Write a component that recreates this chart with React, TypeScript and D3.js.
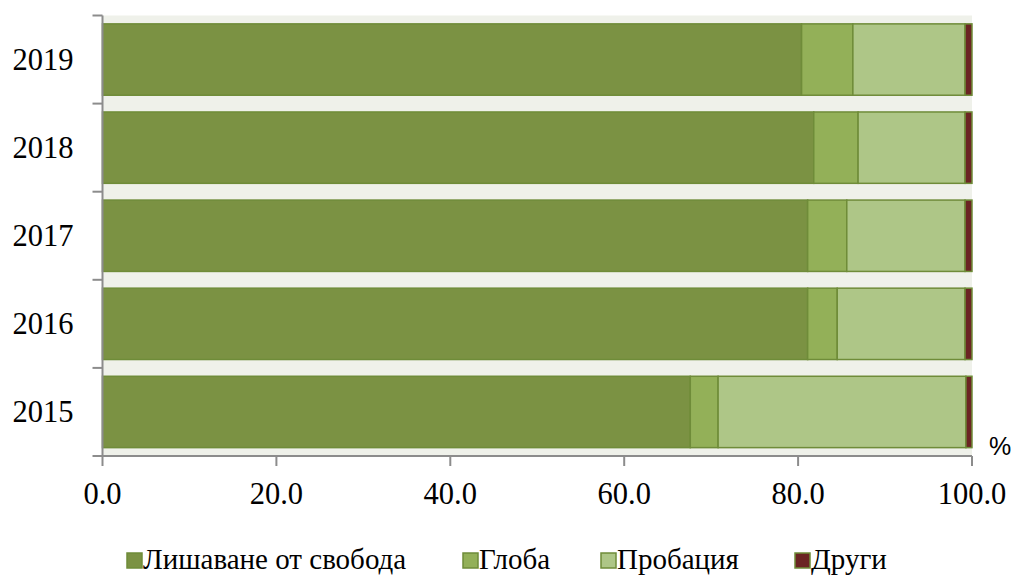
import { useEffect, useRef } from "react";
import * as d3 from "d3";

const years = ["2019", "2018", "2017", "2016", "2015"];
const seriesNames = ["Лишаване от свобода", "Глоба", "Пробация", "Други"];
const deprivation = [80.4, 81.8, 81.1, 81.1, 67.6];
const fine = [5.9, 5.1, 4.5, 3.4, 3.2];
const probation = [12.9, 12.3, 13.6, 14.7, 28.5];
const other = [0.8, 0.8, 0.8, 0.8, 0.7];
const xTicks = [0, 20, 40, 60, 80, 100];

const colors = ["#7b9243", "#93b058", "#aec687", "#6b2423"];

export default function App() {
  const svgRef = useRef<SVGSVGElement>(null);

  useEffect(() => {
    if (!svgRef.current) return;
    const svg = d3.select(svgRef.current);
    svg.selectAll("*").remove();

    const width = 1014;
    const height = 576;
    const margin = { top: 15.5, right: 42, bottom: 120, left: 102.5 };
    const serif = "'Liberation Serif', 'Times New Roman', serif";

    const rows = years.map((y, i) => ({
      year: y,
      values: [deprivation[i], fine[i], probation[i], other[i]],
    }));

    const x = d3
      .scaleLinear()
      .domain([0, 100])
      .range([margin.left, width - margin.right]);

    const y = d3
      .scaleBand()
      .domain(years)
      .range([margin.top, height - margin.bottom])
      .paddingInner(0.19)
      .paddingOuter(0.095);

    const outer = d3
      .scaleBand()
      .domain(years)
      .range([margin.top, height - margin.bottom]);

    // Plot background
    svg
      .append("rect")
      .attr("x", margin.left)
      .attr("y", margin.top)
      .attr("width", x(100) - margin.left)
      .attr("height", height - margin.bottom - margin.top)
      .attr("fill", "#eff1ea");

    // Bars
    rows.forEach((r) => {
      let acc = 0;
      r.values.forEach((v, k) => {
        svg
          .append("rect")
          .attr("x", x(acc))
          .attr("y", y(r.year)!)
          .attr("width", x(acc + v) - x(acc))
          .attr("height", y.bandwidth())
          .attr("fill", colors[k])
          .attr("stroke", "#6f8c39")
          .attr("stroke-width", 1.5);
        acc += v;
      });
    });

    // Y axis
    const yAxis = svg
      .append("g")
      .attr("transform", `translate(${margin.left},0)`);
    yAxis
      .append("line")
      .attr("x1", 0)
      .attr("x2", 0)
      .attr("y1", margin.top)
      .attr("y2", height - margin.bottom)
      .attr("stroke", "#8c8c8c")
      .attr("stroke-width", 2);
    const yTickPos = [...years.map((yr) => outer(yr)!), height - margin.bottom];
    yAxis
      .selectAll("line.tick")
      .data(yTickPos)
      .enter()
      .append("line")
      .attr("x1", -10)
      .attr("x2", 0)
      .attr("y1", (d) => d)
      .attr("y2", (d) => d)
      .attr("stroke", "#8c8c8c")
      .attr("stroke-width", 2);
    yAxis
      .selectAll("text")
      .data(years)
      .enter()
      .append("text")
      .attr("x", -29)
      .attr("y", (d) => outer(d)! + outer.bandwidth() / 2 + 10)
      .attr("text-anchor", "end")
      .attr("font-family", serif)
      .attr("font-size", 30.5)
      .attr("fill", "#000")
      .text((d) => d);

    // X axis
    const xAxis = svg
      .append("g")
      .attr("transform", `translate(0,${height - margin.bottom})`);
    xAxis
      .append("line")
      .attr("x1", margin.left)
      .attr("x2", x(100))
      .attr("stroke", "#8c8c8c")
      .attr("stroke-width", 2);
    xAxis
      .selectAll("line.tick")
      .data(xTicks)
      .enter()
      .append("line")
      .attr("x1", (d) => x(d))
      .attr("x2", (d) => x(d))
      .attr("y1", 0)
      .attr("y2", 10)
      .attr("stroke", "#8c8c8c")
      .attr("stroke-width", 2);
    xAxis
      .selectAll("text")
      .data(xTicks)
      .enter()
      .append("text")
      .attr("x", (d) => x(d))
      .attr("y", 48)
      .attr("text-anchor", "middle")
      .attr("font-family", serif)
      .attr("font-size", 30.5)
      .attr("fill", "#000")
      .text((d) => d.toFixed(1));

    // % unit
    svg
      .append("text")
      .attr("x", 989)
      .attr("y", 455)
      .attr("font-family", "'Liberation Sans', Arial, sans-serif")
      .attr("font-size", 25)
      .attr("fill", "#000")
      .text("%");

    // Legend
    const legendX = [127, 463, 601, 795];
    const legend = svg.append("g");
    seriesNames.forEach((name, k) => {
      legend
        .append("rect")
        .attr("x", legendX[k])
        .attr("y", 553)
        .attr("width", 15)
        .attr("height", 15)
        .attr("fill", colors[k])
        .attr("stroke", "#6f8c39")
        .attr("stroke-width", 1.5);
      legend
        .append("text")
        .attr("x", legendX[k] + 16)
        .attr("y", 569)
        .attr("font-family", serif)
        .attr("font-size", 29)
        .attr("fill", "#000")
        .text(name);
    });
  }, []);

  return (
    <svg
      ref={svgRef}
      width={1014}
      height={576}
      style={{ position: "absolute", left: 0, top: 0, background: "#fff" }}
    />
  );
}
